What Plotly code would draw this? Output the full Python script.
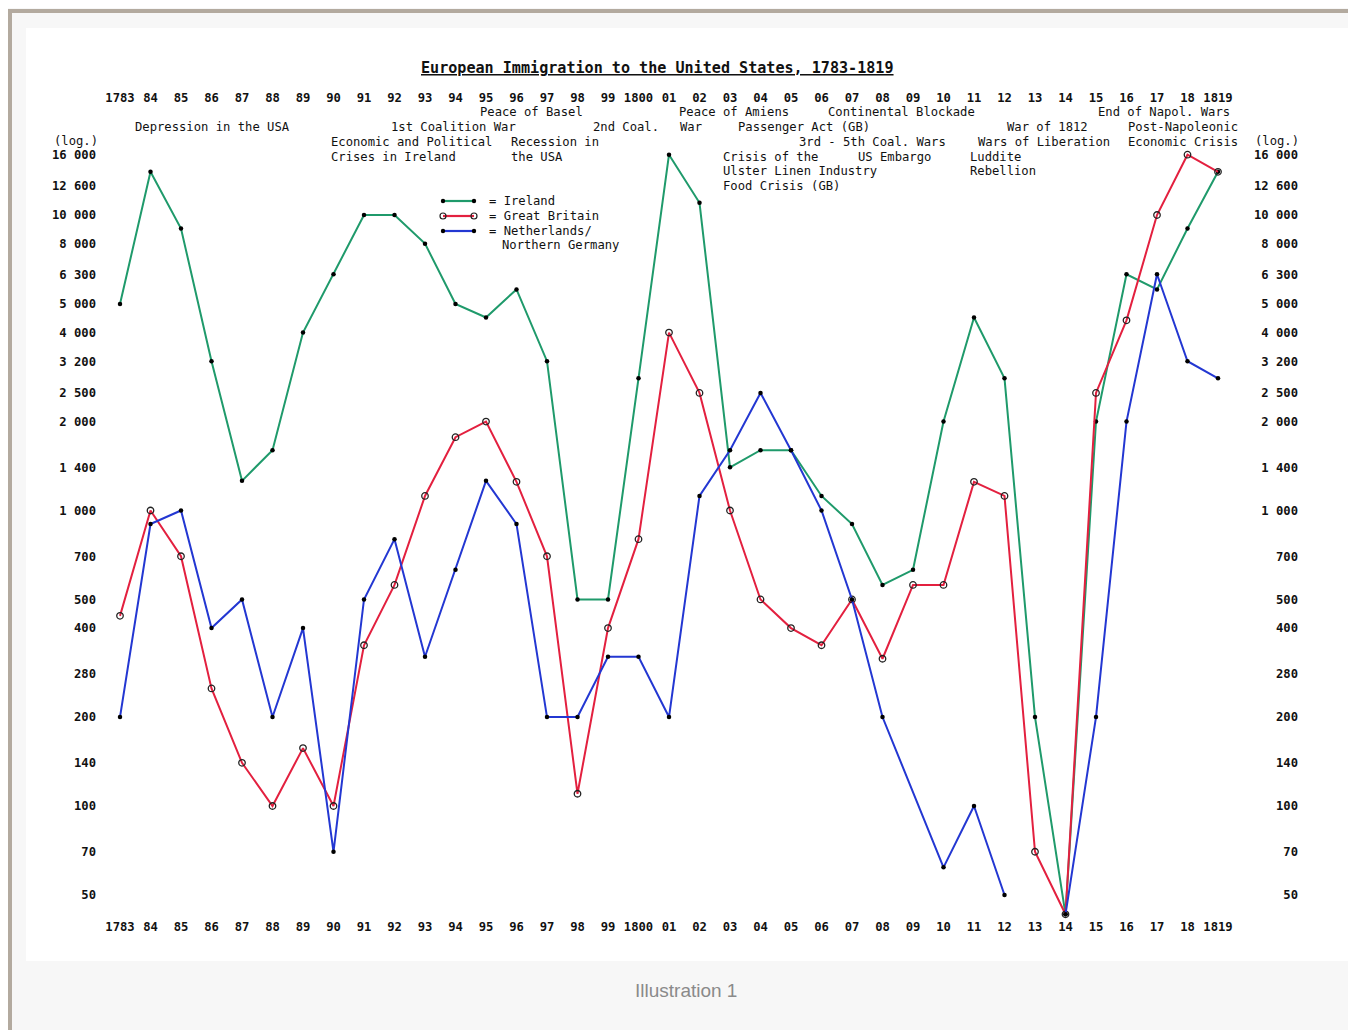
import math
import plotly.graph_objects as go

# ---------------- data ----------------
years = list(range(1783, 1820))
year_labels = ["1783", "84", "85", "86", "87", "88", "89", "90", "91", "92", "93", "94",
               "95", "96", "97", "98", "99", "1800", "01", "02", "03", "04", "05", "06",
               "07", "08", "09", "10", "11", "12", "13", "14", "15", "16", "17", "18", "1819"]

ireland = [5000, 14000, 9000, 3200, 1260, 1600, 4000, 6300, 10000, 10000, 8000, 5000,
           4500, 5600, 3200, 500, 500, 2800, 16000, 11000, 1400, 1600, 1600, 1120,
           900, 560, 630, 2000, 4500, 2800, 200, 43, 2000, 6300, 5600, 9000, 14000]

great_britain = [440, 1000, 700, 250, 140, 100, 157, 100, 350, 560, 1120, 1770,
                 2000, 1250, 700, 110, 400, 800, 4000, 2500, 1000, 500, 400, 350,
                 500, 315, 560, 560, 1250, 1120, 70, 43, 2500, 4400, 10000, 16000, 14000]

netherlands = [200, 900, 1000, 400, 500, 200, 400, 70, 500, 800, 320, 630,
               1260, 900, 200, 200, 320, 320, 200, 1120, 1600, 2500, 1600, 1000,
               500, 200, None, 62, 100, 50, None, 43, 200, 2000, 6300, 3200, 2800]

ytick_vals = [16000, 12600, 10000, 8000, 6300, 5000, 4000, 3200, 2500, 2000, 1400,
              1000, 700, 500, 400, 280, 200, 140, 100, 70, 50]
ytick_text = ["16 000", "12 600", "10 000", "8 000", "6 300", "5 000", "4 000", "3 200",
              "2 500", "2 000", "1 400", "1 000", "700", "500", "400", "280", "200",
              "140", "100", "70", "50"]

events = [
    ("Peace of Basel", 478, 112), ("Peace of Amiens", 677, 112),
    ("Continental Blockade", 826, 112), ("End of Napol. Wars", 1096, 112),
    ("Depression in the USA", 133, 127), ("1st Coalition War", 389, 127),
    ("2nd Coal.", 591, 127), ("War", 678, 127), ("Passenger Act (GB)", 736, 127),
    ("War of 1812", 1005, 127), ("Post-Napoleonic", 1126, 127),
    ("Economic and Political", 329, 142), ("Recession in", 509, 142),
    ("3rd - 5th Coal. Wars", 797, 142), ("Wars of Liberation", 976, 142),
    ("Economic Crisis", 1126, 142),
    ("Crises in Ireland", 329, 157), ("the USA", 509, 157), ("Crisis of the", 721, 157),
    ("US Embargo", 856, 157), ("Luddite", 968, 157),
    ("Ulster Linen Industry", 721, 171), ("Rebellion", 968, 171),
    ("Food Crisis (GB)", 721, 186),
]

# ---------------- geometry (in screen pixels of the 1356x1030 page) ----------------
OFF = 8                      # default page margin of the html body
W, H = 1356 - OFF, 1030 - OFF
PLOT_L, PLOT_R, PLOT_T, PLOT_B = 100, 1250, 108, 917
ML, MR = PLOT_L - OFF, W - (PLOT_R - OFF)
MT, MB = PLOT_T - OFF, H - (PLOT_B - OFF)
PX_PER_YEAR = 30.5
X_FIRST_PX = 120
PX_PER_DECADE = 295.5
Y_10000_PX = 215

x_range = [1783 - (X_FIRST_PX - PLOT_L) / PX_PER_YEAR,
           1783 + (PLOT_R - X_FIRST_PX) / PX_PER_YEAR]
y_range = [4 - (PLOT_B - Y_10000_PX) / PX_PER_DECADE,
           4 + (Y_10000_PX - PLOT_T) / PX_PER_DECADE]


def pxx(x):
    return (x - PLOT_L) / (PLOT_R - PLOT_L)


def pxy(y):
    return 1 - (y - PLOT_T) / (PLOT_B - PLOT_T)


MONO = "DejaVu Sans Mono"
GREEN = "#1f9a6b"
RED = "#e3203f"
BLUE = "#2337d2"

fig = go.Figure()

fig.add_trace(go.Scatter(
    x=years, y=ireland, mode="lines+markers", name="Ireland",
    line=dict(color=GREEN, width=2),
    marker=dict(color="black", size=4.5, symbol="circle"),
    cliponaxis=False, showlegend=False))

fig.add_trace(go.Scatter(
    x=years, y=great_britain, mode="lines+markers", name="Great Britain",
    line=dict(color=RED, width=2),
    marker=dict(color="#222", size=6.5, symbol="circle-open", line=dict(width=1.3)),
    cliponaxis=False, showlegend=False))

split = years.index(1813)
fig.add_trace(go.Scatter(
    x=years[:split], y=netherlands[:split], mode="lines+markers",
    name="Netherlands/Northern Germany", connectgaps=True,
    line=dict(color=BLUE, width=2),
    marker=dict(color="black", size=4.5, symbol="circle"),
    cliponaxis=False, showlegend=False))
fig.add_trace(go.Scatter(
    x=years[split + 1:], y=netherlands[split + 1:], mode="lines+markers",
    name="Netherlands/Northern Germany", connectgaps=True,
    line=dict(color=BLUE, width=2),
    marker=dict(color="black", size=4.5, symbol="circle"),
    cliponaxis=False, showlegend=False))

# invisible trace so the top and right axes are drawn
fig.add_trace(go.Scatter(
    x=years, y=ireland, xaxis="x2", yaxis="y2", mode="lines",
    line=dict(width=0), opacity=0, hoverinfo="skip", showlegend=False))

tickfont = dict(family=MONO, size=12.2, color="#111", weight="bold")
right_text = [t.replace(" ", "\u00a0").rjust(6, "\u00a0") for t in ytick_text]

fig.update_layout(
    width=W, height=H,
    margin=dict(l=ML, r=MR, t=MT, b=MB, pad=0),
    paper_bgcolor="#f7f7f7",
    plot_bgcolor="rgba(0,0,0,0)",
    showlegend=False,
    xaxis=dict(range=x_range, tickmode="array", tickvals=years, ticktext=year_labels,
               showgrid=False, zeroline=False, showline=False, ticks="",
               tickfont=tickfont, ticklabelstandoff=1, tickangle=0),
    xaxis2=dict(range=x_range, overlaying="x", side="top", tickmode="array",
                tickvals=years, ticktext=year_labels, showgrid=False, zeroline=False,
                showline=False, ticks="", tickfont=tickfont, ticklabelstandoff=3,
                tickangle=0),
    yaxis=dict(type="log", range=y_range, tickmode="array", tickvals=ytick_vals,
               ticktext=ytick_text, showgrid=False, zeroline=False, showline=False,
               ticks="", tickfont=tickfont, ticklabelstandoff=3),
    yaxis2=dict(type="log", range=y_range, overlaying="y", side="right",
                tickmode="array", tickvals=ytick_vals, ticktext=right_text,
                showgrid=False, zeroline=False, showline=False, ticks="",
                tickfont=tickfont, ticklabelstandoff=3),
)

shapes = []
# white panel
shapes.append(dict(type="rect", xref="paper", yref="paper", layer="below",
                   x0=pxx(26), x1=pxx(1349), y0=pxy(961), y1=pxy(28),
                   fillcolor="white", line=dict(width=0)))
# outer frame (left and top edges)
shapes.append(dict(type="line", xref="paper", yref="paper", layer="below",
                   x0=pxx(10), x1=pxx(10), y0=pxy(9), y1=pxy(1040),
                   line=dict(color="#b3aa9f", width=4)))
shapes.append(dict(type="line", xref="paper", yref="paper", layer="below",
                   x0=pxx(8), x1=pxx(1370), y0=pxy(11), y1=pxy(11),
                   line=dict(color="#b3aa9f", width=4)))

# legend samples
legend_rows = [(GREEN, "dot", 201), (RED, "open", 216), (BLUE, "dot", 231)]
for color, kind, yy in legend_rows:
    shapes.append(dict(type="line", xref="paper", yref="paper",
                       x0=pxx(443), x1=pxx(474), y0=pxy(yy), y1=pxy(yy),
                       line=dict(color=color, width=2.2)))
    for xx in (443, 474):
        if kind == "dot":
            shapes.append(dict(type="circle", xref="paper", yref="paper",
                               xsizemode="pixel", ysizemode="pixel",
                               xanchor=pxx(xx), yanchor=pxy(yy),
                               x0=-2.2, x1=2.2, y0=-2.2, y1=2.2,
                               fillcolor="black", line=dict(width=0)))
        else:
            shapes.append(dict(type="circle", xref="paper", yref="paper",
                               xsizemode="pixel", ysizemode="pixel",
                               xanchor=pxx(xx), yanchor=pxy(yy),
                               x0=-3, x1=3, y0=-3, y1=3,
                               fillcolor="rgba(0,0,0,0)", line=dict(color="#222", width=1.2)))
fig.update_layout(shapes=shapes)

annos = []
textfont = dict(family=MONO, size=12.2, color="#111")


def add_text(txt, x, y, font=textfont, xanchor="left"):
    annos.append(dict(text=txt, x=pxx(x), y=pxy(y), xref="paper", yref="paper",
                      xanchor=xanchor, yanchor="middle", showarrow=False, font=font))


for txt, x, y in events:
    add_text(txt, x, y)

add_text("(log.)", 52, 141)
add_text("(log.)", 1253, 141)

add_text("= Ireland", 487, 201)
add_text("= Great Britain", 487, 216)
add_text("= Netherlands/", 487, 231)
add_text("Northern Germany", 500, 245)

add_text("European Immigration to the United States, 1783-1819", 657, 68,
         font=dict(family=MONO, size=15.1, color="#111", weight="bold", lineposition="under"),
         xanchor="center")

add_text("Illustration 1", 686, 990,
         font=dict(family="Liberation Sans", size=19, color="#8a8a8a"), xanchor="center")

fig.update_layout(annotations=annos)

fig.write_html("out.html")
